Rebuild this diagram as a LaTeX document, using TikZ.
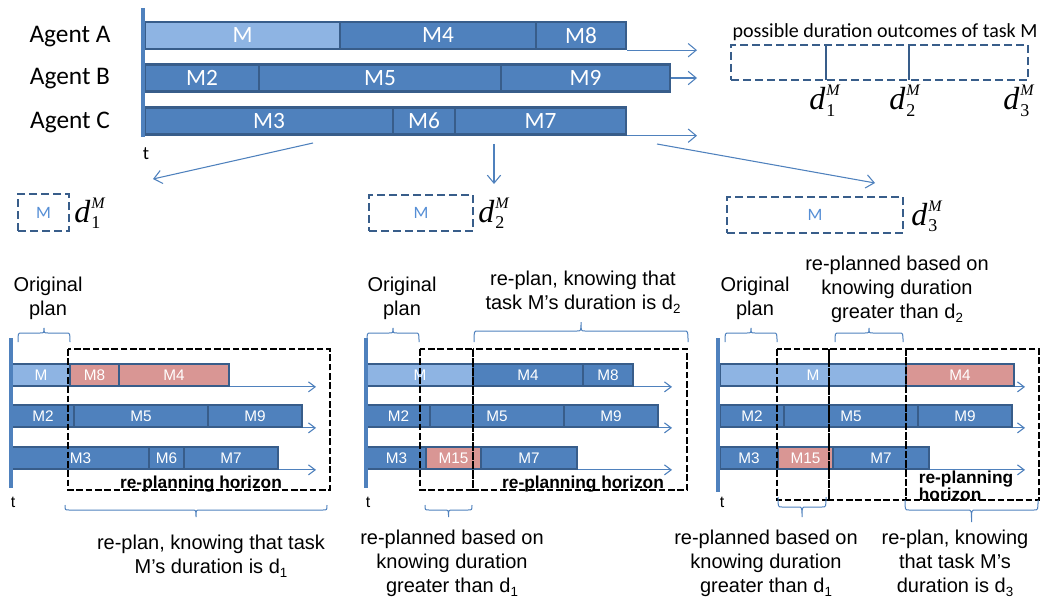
\documentclass[tikz,border=0pt]{standalone}
\usepackage{fontspec}
\setmainfont{Carlito}
\newfontfamily\arial{Liberation Sans}
\newfontfamily\tms{Liberation Serif}
\usetikzlibrary{arrows.meta, positioning}
\definecolor{taskblue}{HTML}{4F81BD}
\definecolor{taskedge}{HTML}{385D8A}
\definecolor{tasklight}{HTML}{8EB4E3}
\definecolor{taskred}{HTML}{D99694}
\definecolor{mblue}{HTML}{558ED5}
\newcommand\dM[1]{d\kern0.8pt\ooalign{\raisebox{10.5pt}{\fontsize{12}{12}\selectfont M}\cr
  \raisebox{-5pt}{\fontsize{13.5}{13.5}\selectfont\upshape #1}}}
\newcommand\dsub[1]{\raisebox{-3pt}{\fontsize{10}{10}\selectfont #1}}
% brace: x1, x2, y of ends, y of middle line, y of tip
\newcommand\brc[5]{\draw[BRC] (#1,#3) .. controls (#1,#4) .. ({#1+4},#4)
  -- ({(#1+#2)/2-4},#4) .. controls ({(#1+#2)/2},#4) .. ({(#1+#2)/2},#5)
  .. controls ({(#1+#2)/2},#4) .. ({(#1+#2)/2+4},#4)
  -- ({#2-4},#4) .. controls (#2,#4) .. (#2,#3);}

\begin{document}
\begin{tikzpicture}[x=0.75pt, y=-0.75pt,
    TB/.style  = {draw=taskedge, line width=1.8pt, fill=taskblue, text=white,
                  inner sep=0pt, minimum height=20.25pt, font=\fontsize{17.5}{17.5}\selectfont},
    TL/.style  = {TB, fill=tasklight},
    PB/.style  = {draw=taskedge, line width=1.3pt, fill=taskblue, text=white,
                  inner sep=0pt, minimum height=16.5pt, font=\arial\fontsize{11.5}{11.5}\selectfont},
    PL/.style  = {PB, fill=tasklight},
    PR/.style  = {PB, fill=taskred},
    AR/.style  = {taskblue, line width=0.8pt, -{Straight Barb[length=6pt, width=10pt]}},
    SAR/.style = {taskblue, line width=0.8pt, -{Straight Barb[length=5pt, width=7.5pt]}},
    AX/.style  = {taskblue, line width=#1},
    DBX/.style = {draw=taskedge, line width=1.9pt, dash pattern=on 6pt off 3pt, inner sep=0pt},
    HZ/.style  = {black, line width=1.9pt, dash pattern=on 5pt off 2pt},
    BRC/.style = {taskblue, line width=0.75pt},
    AG/.style  = {anchor=base, inner sep=0pt, font=\fontsize{19}{19}\selectfont},
    DL/.style  = {anchor=base west, inner sep=0pt, font=\tms\itshape\fontsize{24}{24}\selectfont},
    TXT/.style = {align=center, inner sep=0pt, font=\arial\fontsize{15}{18}\selectfont},
    HZT/.style = {inner sep=0pt, font=\arial\bfseries\fontsize{13}{11}\selectfont},
    TT/.style  = {inner sep=0pt, font=\arial\fontsize{12}{12}\selectfont}]
\useasboundingbox (0,0) rectangle (1041,599);

% ---- original schedule
\foreach \nm/\lab/\yb in {agA/Agent A/43, agB/Agent B/85, agC/Agent C/128}
  \node[AG] (\nm) at (70,\yb) {\lab};

\foreach \nm/\xa/\xb/\yc/\st/\lab in {
    ta1/145/340/35.5/TL/M, ta2/340/536/35.5/TB/M4, ta3/536/626/35.5/TB/M8,
    tb1/145/259/78/TB/M2,  tb2/259/501/78/TB/M5,   tb3/501/670/78/TB/M9,
    tc1/145/393/121/TB/M3, tc2/393/455/121/TB/M6,  tc3/455/626/121/TB/M7}
  \node[\st, minimum width={(\xb-\xa)*0.75pt}] (\nm) at ({(\xa+\xb)/2},\yc) {\lab};
\draw[AX=3pt] (143,8) -- (143,137);
\node[inner sep=0pt, font=\fontsize{14}{14}\selectfont] (tt) at (146,154) {t};

\coordinate (tend) at (697,0);
\draw[AR] (ta3.south east) -- (ta3.south east -| tend);
\draw[AR] (tb3.east) -- (tb3.east -| tend);
\draw[AR] (tc3.south east) -- (tc3.south east -| tend);

% ---- possible outcomes of M
\node[inner sep=0pt, font=\fontsize{15}{15}\selectfont] (pdt) at (885,32) {possible duration outcomes of task M};
\node[DBX, minimum width=222.75pt, minimum height=26.25pt] (pd) at (879.5,62.5) {};
\draw[taskedge, line width=1.9pt] (826,45) -- (826,80) (909,45) -- (909,80);
\node[DL] (pd1) at (809,110) {\dM{1}};
\node[DL] (pd2) at (889,110) {\dM{2}};
\node[DL] (pd3) at (1003,110) {\dM{3}};

% ---- three outcomes
\coordinate (s1) at (313,143); \coordinate (e1) at (153,179);
\coordinate (s2) at (494,144); \coordinate (e2) at (494,184);
\coordinate (s3) at (657,144); \coordinate (e3) at (875,183);
\foreach \i in {1,2,3} \draw[AR] (s\i) -- (e\i);

\node[DBX, minimum width=38.25pt, minimum height=27.75pt, text=mblue,
      font=\fontsize{13}{13}\selectfont] (o1) at (43.5,212.5) {M};
\node[DBX, minimum width=78pt, minimum height=27pt, text=mblue,
      font=\fontsize{13}{13}\selectfont] (o2) at (421,213) {M};
\node[DBX, minimum width=132pt, minimum height=27pt, text=mblue,
      font=\fontsize{13}{13}\selectfont] (o3) at (815,215) {M};
\node[DL] (od1) at (74,222) {\dM{1}};
\node[DL] (od2) at (478,222) {\dM{2}};
\node[DL] (od3) at (911,225) {\dM{3}};

% ---- re-plans
\foreach \nm/\xa/\xb/\yc/\st/\lab in {
    pa1/12/70/375/PL/M,   pa2/70/119/375/PR/M8,   pa3/119/229/375/PR/M4,
    pb1/12/74/416/PB/M2,  pb2/74/208/416/PB/M5,   pb3/208/302/416/PB/M9,
    pc1/12/149/458/PB/M3, pc2/149/184/458/PB/M6,  pc3/184/278/458/PB/M7,
    qa1/367/473/375/PL/M, qa2/473/583/375/PB/M4,  qa3/583/633/375/PB/M8,
    qb1/367/430/416/PB/M2, qb2/430/564/416/PB/M5, qb3/564/658/416/PB/M9,
    qc1/367/426/458/PB/M3, qc2/426/481/458/PR/M15, qc3/481/577/458/PB/M7,
    ra1/720/906/375/PL/M, ra2/906/1014/375/PR/M4,
    rb1/720/784/416/PB/M2, rb2/784/918/416/PB/M5, rb3/918/1012/416/PB/M9,
    rc1/720/778/458/PB/M3, rc2/778/833/458/PR/M15, rc3/833/929/458/PB/M7}
  \node[\st, minimum width={(\xb-\xa)*0.75pt}] (\nm) at ({(\xa+\xb)/2},\yc) {\lab};

\coordinate (pend) at (316,0);
\coordinate (qend) at (672,0);
\coordinate (rend) at (1025,0);
\foreach \b/\e in {pa3/pend, pb3/pend, pc3/pend, qa3/qend, qb3/qend, qc3/qend,
                   ra2/rend, rb3/rend, rc3/rend}
  \draw[SAR] (\b.south east) -- (\b.south east -| \e);

\draw[AX=2.3pt] (11,338) -- (11,488);
\draw[AX=2.3pt] (366,338) -- (366,488);
\draw[AX=2.3pt] (718,338) -- (718,492);
\node[TT] (pt) at (13,502) {t};
\node[TT] (qt) at (368,502) {t};
\node[TT] (rt) at (722,502) {t};

\draw[HZ] (68,349) rectangle (330,490);
\draw[HZ] (420,349) rectangle (473,490) (473,349) rectangle (687,490);
\draw[HZ] (777,349) rectangle (829,500) (829,349) rectangle (906,500)
          (906,349) rectangle (1039,500);
\node[HZT, anchor=base] (ph) at (201,488) {re-planning horizon};
\node[HZT, anchor=base] (qh) at (583,488) {re-planning horizon};
\node[HZT, align=left] (rh) at (966,486) {re-planning\\horizon};

% original plan
\foreach \n/\x in {p/48, q/402, r/755}
  \node[TXT] (\n orig) at (\x,298) {Original\\plan};
\brc{18}{70}{342}{333}{328}
\brc{367}{419}{342}{333}{328}
\brc{725}{777}{342}{333}{328}

% knowledge about M
\brc{474}{688}{342}{331}{322}
\node[TXT] (qtop) at (583,292) {re-plan, knowing that\\task M’s duration is d\dsub{2}};
\brc{835}{903}{342}{333}{328}
\node[TXT] (rtop) at (897,289) {re-planned based on\\knowing duration\\greater than d\dsub{2}};

\brc{65}{327}{505}{510}{517}
\node[TXT] (pbot) at (211,556) {re-plan, knowing that task\\M’s duration is d\dsub{1}};
\brc{425}{472}{505}{510}{517}
\node[TXT] (qbot) at (452,563) {re-planned based on\\knowing duration\\greater than d\dsub{1}};
\brc{778}{826}{497}{507}{517}
\node[TXT] (rbot1) at (766,563) {re-planned based on\\knowing duration\\greater than d\dsub{1}};
\brc{905}{1038}{500}{510}{522}
\node[TXT] (rbot2) at (955,563) {re-plan, knowing\\that task M’s\\duration is d\dsub{3}};
\end{tikzpicture}
\end{document}
